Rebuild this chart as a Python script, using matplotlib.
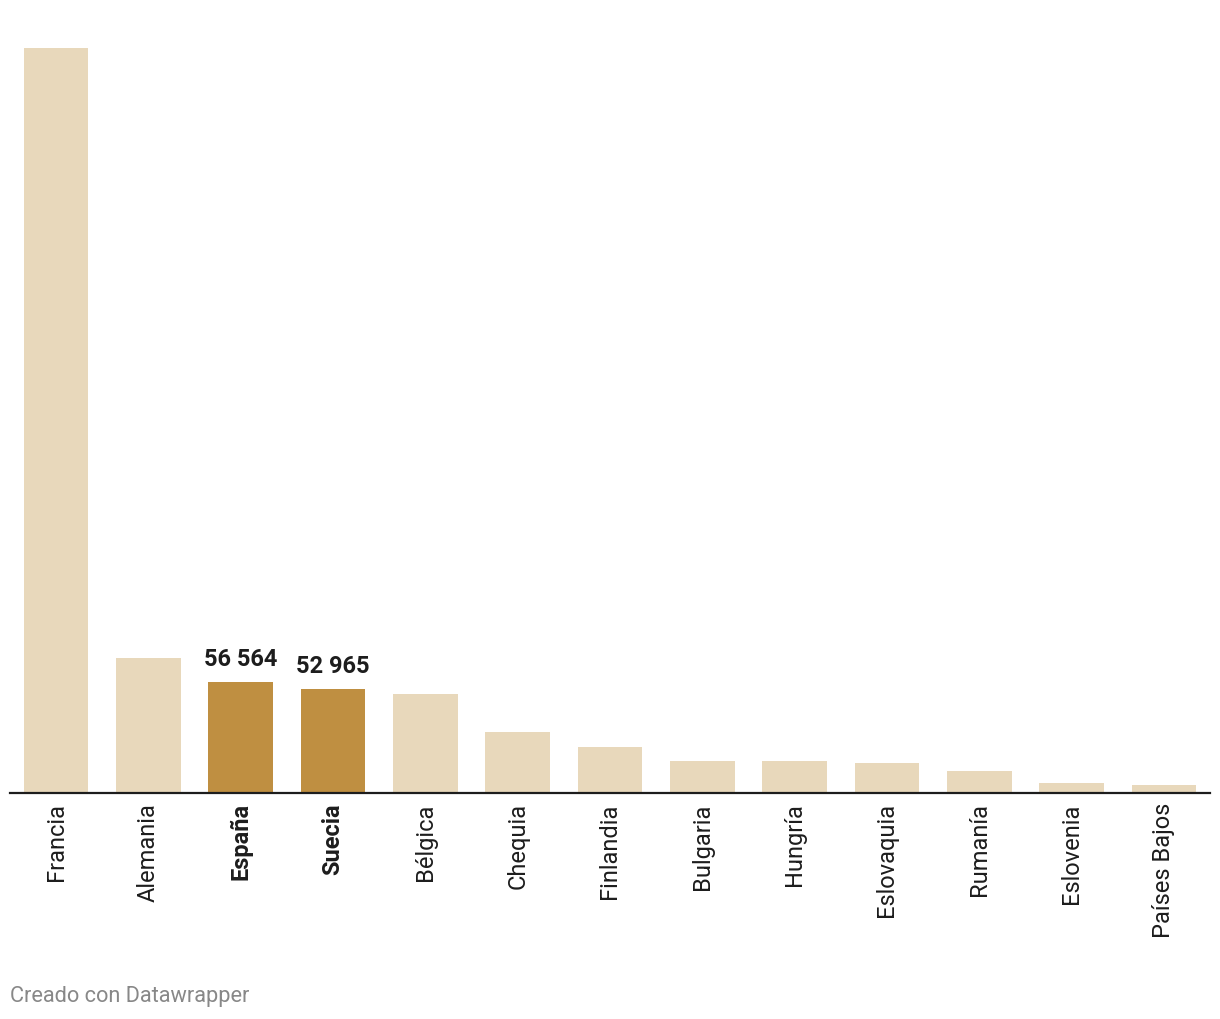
import matplotlib.pyplot as plt
import numpy as np

# data
paises = ["Francia", "Alemania", "España", "Suecia", "Bélgica", "Chequia",
          "Finlandia", "Bulgaria", "Hungría", "Eslovaquia", "Rumanía",
          "Eslovenia", "Países Bajos"]
valores = [382600, 69400, 56564, 52965, 50400, 30850,
           23650, 16450, 15950, 15400, 10800, 5140, 3600]
destacados = ["España", "Suecia"]

color_claro = "#e8d8bb"
color_oscuro = "#bf8f41"
color_texto = "#1d1d1d"

plt.rcParams['font.family'] = ['Roboto', 'DejaVu Sans']

W, H = 1220, 1020
fig = plt.figure(figsize=(W / 100, H / 100), dpi=100)
base_y = 793.5
ax = fig.add_axes([10 / W, (H - base_y) / H, 1200 / W, 778 / H])

x = np.arange(len(paises))
colores = [color_oscuro if p in destacados else color_claro for p in paises]
ax.bar(x, valores, width=0.7, color=colores, zorder=1)

ax.set_xlim(-0.5, len(paises) - 0.5)
ax.set_ylim(0, 400000)

for i, (p, v) in enumerate(zip(paises, valores)):
    if p in destacados:
        ax.text(i, v + 6200, f"{v:,}".replace(",", " "), ha="center", va="bottom",
                fontsize=17, fontweight="bold", color=color_texto)

ax.set_xticks(x)
ax.set_xticklabels(paises, rotation=90, fontsize=17, color=color_texto)
for lbl in ax.get_xticklabels():
    if lbl.get_text() in destacados:
        lbl.set_fontweight("bold")
ax.tick_params(axis="x", length=0, pad=7)
ax.set_yticks([])

for s in ["top", "right", "left"]:
    ax.spines[s].set_visible(False)
ax.spines["bottom"].set_color(color_texto)
ax.spines["bottom"].set_linewidth(1.6)
ax.spines["bottom"].set_zorder(3)

fig.text(10 / W, 1 - 997 / H, "Creado con Datawrapper", fontsize=15.7,
         color="#888888", ha="left", va="center")

fig.savefig("out.png", dpi=100, facecolor="white")
